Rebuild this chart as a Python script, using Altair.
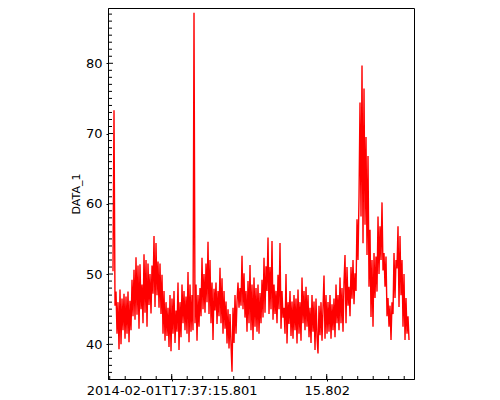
import altair as alt
import pandas as pd

# Signal values, one sample per step
values = [
    50.4, 73.3, 45.5, 47.5, 41.5, 46.0, 39.3, 47.8, 40.0, 46.5,
    42.0, 47.2, 40.8, 46.8, 41.5, 47.5, 40.3, 46.2, 42.0, 49.2,
    44.0, 50.6, 43.5, 52.4, 44.2, 51.2, 42.2, 51.4, 45.0, 48.5,
    43.0, 52.8, 44.5, 52.0, 42.5, 51.5, 45.6, 50.0, 44.4, 51.2,
    47.2, 55.4, 45.3, 54.4, 47.0, 51.8, 45.2, 51.5, 44.3, 49.9,
    41.5, 47.6, 40.5, 46.0, 41.2, 45.2, 39.6, 47.0, 39.0, 46.5,
    41.5, 47.6, 40.2, 44.8, 41.8, 48.8, 39.2, 46.0, 41.0, 48.5,
    43.0, 47.6, 42.0, 46.8, 41.5, 50.3, 40.3, 48.5, 41.8, 47.0,
    42.0, 87.2, 43.0, 48.5, 40.5, 47.0, 42.5, 48.0, 44.0, 52.3,
    45.0, 50.0, 44.5, 51.5, 46.0, 54.6, 44.3, 52.0, 43.0, 48.8,
    40.6, 47.9, 44.8, 48.8, 42.9, 47.6, 44.0, 50.9, 43.0, 49.4,
    41.5, 47.6, 42.2, 46.1, 40.1, 45.0, 39.4, 44.3, 40.0, 36.1,
    45.2, 40.2, 47.0, 41.5, 46.0, 48.8, 45.2, 48.0, 45.5, 52.6,
    45.0, 50.1, 43.8, 47.6, 41.8, 49.0, 43.0, 51.3, 42.0, 48.5,
    40.6, 49.5, 42.5, 48.0, 41.8, 48.5, 41.5, 47.3, 43.0, 49.2,
    43.8, 52.3, 44.5, 51.1, 47.6, 55.2, 44.3, 51.0, 45.0, 54.7,
    43.5, 48.5, 44.3, 47.6, 43.0, 49.9, 45.0, 54.4, 42.2, 47.6,
    43.8, 45.2, 41.5, 50.0, 40.1, 46.0, 42.9, 47.6, 41.2, 46.1,
    40.8, 47.0, 42.0, 46.5, 40.1, 47.8, 41.5, 46.0, 40.5, 49.5,
    43.0, 47.6, 42.0, 48.2, 42.5, 47.0, 41.0, 45.2, 40.2, 47.0,
    41.8, 46.1, 39.2, 46.5, 41.0, 38.7, 45.5, 41.3, 46.0, 40.5,
    45.2, 49.8, 40.8, 47.0, 41.5, 46.0, 41.8, 47.0, 40.8, 45.7,
    42.0, 46.5, 41.0, 48.5, 43.0, 47.0, 42.0, 49.5, 43.0, 48.0,
    41.8, 48.8, 52.7, 43.0, 51.0, 45.5, 48.2, 44.0, 51.0, 46.5,
    52.0, 45.7, 50.1, 47.6, 57.8, 52.0, 60.9, 74.4, 58.2, 79.7,
    54.4, 76.4, 57.0, 69.5, 52.7, 66.8, 48.2, 56.3, 43.9, 52.0,
    42.5, 53.0, 46.6, 52.5, 47.5, 58.2, 50.0, 56.8, 52.0, 60.2,
    50.5, 53.0, 48.2, 52.5, 44.0, 46.6, 42.5, 45.5, 40.6, 46.0,
    44.3, 53.0, 46.6, 52.0, 50.8, 56.8, 45.3, 55.4, 47.0, 52.0,
    42.5, 50.0, 40.6, 46.6, 41.5, 44.0, 40.6,
]

# Time axis: milliseconds after 2014-02-01T17:37:15.800, uniform sampling
t_start = 0.6213
t_step = 1.0 / 155.0
times = [t_start + i * t_step for i in range(len(values))]

x_domain = [0.589, 2.5632]
y_domain = [35.06, 87.87]

x_tick_values = [1.0, 2.0]
x_tick_labels = ["2014-02-01T17:37:15.801", "15.802"]
x_minor_ticks = [round(0.6 + 0.1 * i, 1) for i in range(20)]
y_tick_values = [40, 50, 60, 70, 80]
y_minor_ticks = [v for v in range(36, 88) if v % 10 != 0]

label_expr = " : ".join(
    f"datum.value == {v} ? '{l}'" for v, l in zip(x_tick_values, x_tick_labels)
) + " : ''"

df = pd.DataFrame({"t": times, "v": values})

FONT = "DejaVu Sans"

x_scale = alt.Scale(domain=x_domain, nice=False, zero=False)
y_scale = alt.Scale(domain=y_domain, nice=False, zero=False)

x_axis = alt.Axis(values=x_tick_values, labelExpr=label_expr, title=None,
                  grid=False, tickSize=2, labelPadding=3, labelFont=FONT,
                  labelFontSize=13, labelColor="black", domainColor="black",
                  tickColor="black", labelFlush=False, labelOverlap=False)
y_axis = alt.Axis(values=y_tick_values, title="DATA_1", grid=False,
                  tickSize=2, labelPadding=4, labelFont=FONT, labelFontSize=13,
                  labelColor="black", domainColor="black", tickColor="black",
                  titleFont=FONT, titleFontSize=11, titleFontWeight="normal",
                  titleColor="black", titlePadding=4)

line = alt.Chart(df).mark_line(color="#ff0000", strokeWidth=1.4, clip=True).encode(
    x=alt.X("t:Q", scale=x_scale, axis=x_axis),
    y=alt.Y("v:Q", scale=y_scale, axis=y_axis),
)

ymaj = alt.Chart(pd.DataFrame({"v": y_tick_values})).mark_rule(color="black", strokeWidth=1).encode(
    y=alt.Y("v:Q", scale=y_scale, axis=y_axis), x=alt.value(0), x2=alt.value(5))
ymin = alt.Chart(pd.DataFrame({"v": y_minor_ticks})).mark_rule(color="black", strokeWidth=1).encode(
    y=alt.Y("v:Q", scale=y_scale, axis=y_axis), x=alt.value(0), x2=alt.value(4))
xmaj = alt.Chart(pd.DataFrame({"t": x_tick_values})).mark_rule(color="black", strokeWidth=1).encode(
    x=alt.X("t:Q", scale=x_scale, axis=x_axis), y=alt.value(371), y2=alt.value(366))
xmin = alt.Chart(pd.DataFrame({"t": x_minor_ticks})).mark_rule(color="black", strokeWidth=1).encode(
    x=alt.X("t:Q", scale=x_scale, axis=x_axis), y=alt.value(371), y2=alt.value(368))

chart = alt.layer(line, ymaj, ymin, xmaj, xmin).properties(
    width=306, height=371,
    background="white",
    autosize=alt.AutoSizeParams(type="none"),
    padding={"left": 100, "top": 0, "right": 10, "bottom": 20},
).configure_view(stroke="black", strokeWidth=1)

chart.save("out.html", embed_options={"renderer": "svg", "actions": False})
